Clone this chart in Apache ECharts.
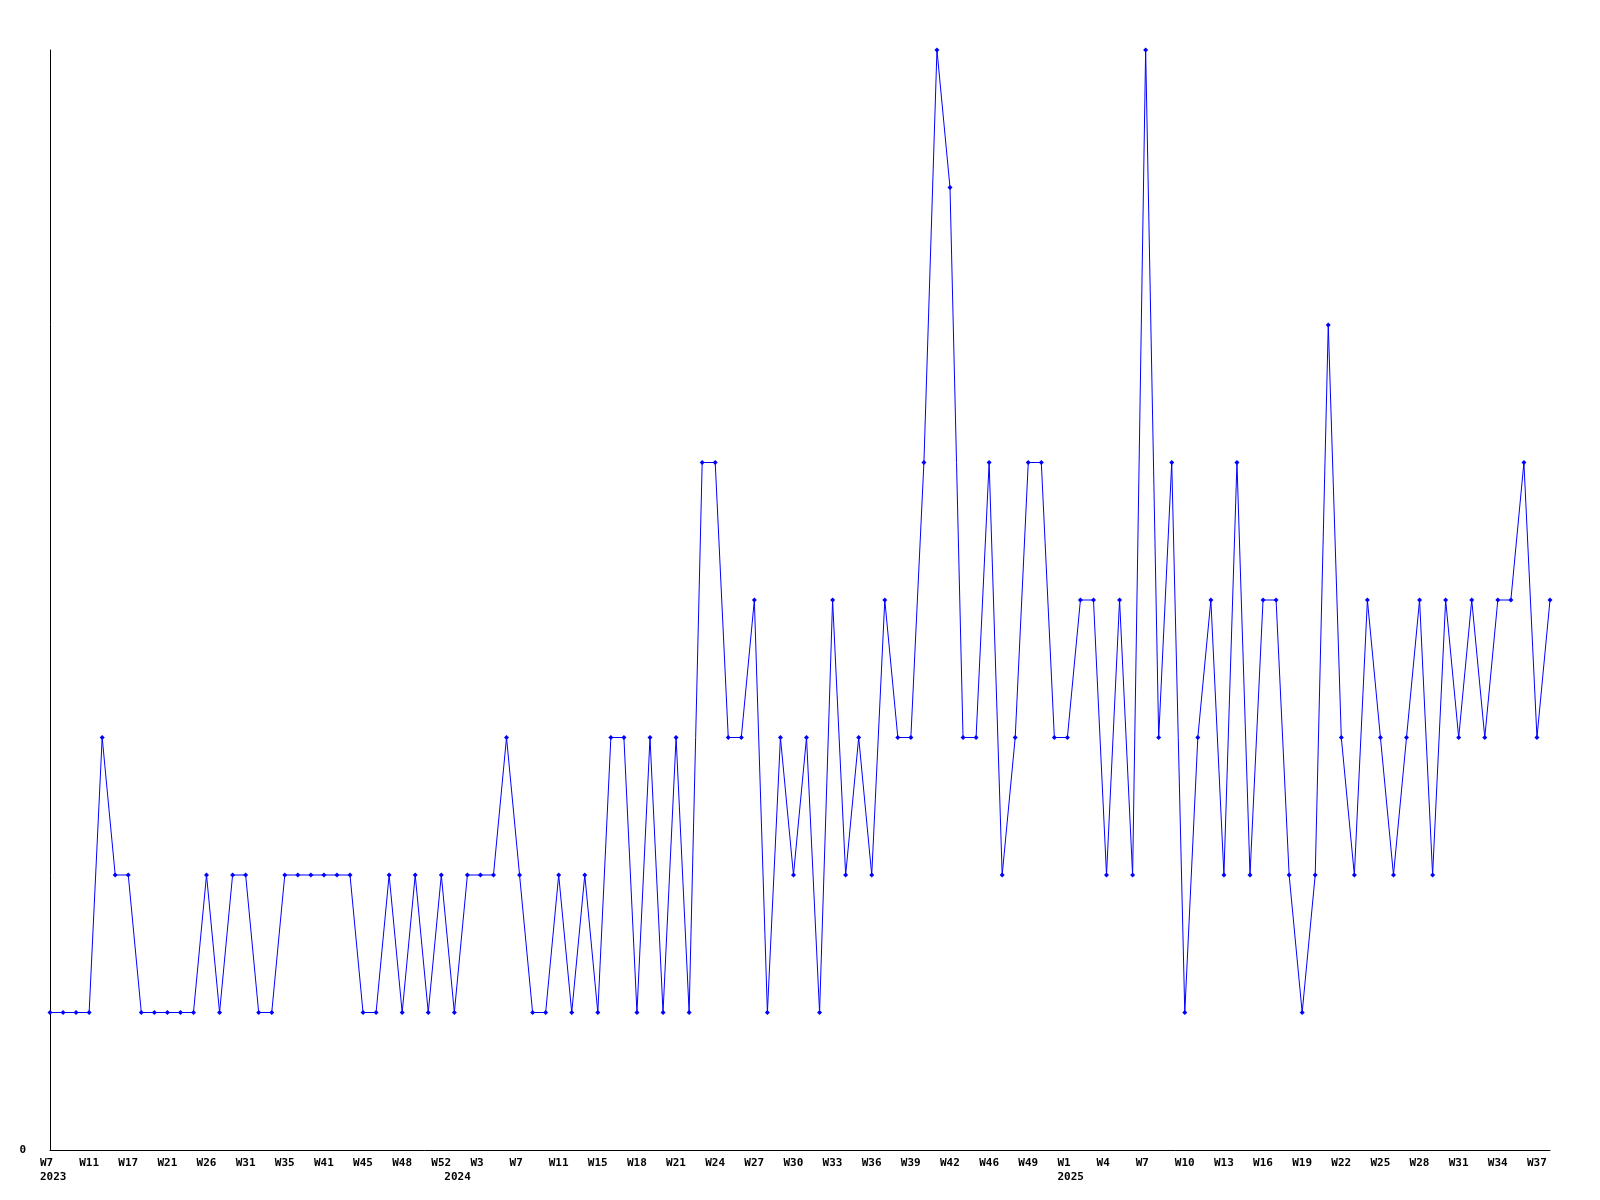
<!DOCTYPE html>
<html>
<head>
<meta charset="utf-8">
<script src="https://cdn.jsdelivr.net/npm/echarts@6/dist/echarts.min.js"></script>
<style>html,body{margin:0;padding:0;background:#fff;}#c{width:1600px;height:1200px;}</style>
</head>
<body>
<div id="c"></div>
<script>
const weeks2023 = [7,8,9,11,12,14,17,18,19,21,22,24,26,27,29,31,32,33,35,37,39,41,42,43,45,46,47,48,49,50,52];
const weeks2024 = [1,2,3,4,6,7,8,10,11,12,13,15,16,17,18,19,20,21,22,23,24,25,26,27,28,29,30,31,32,33,34,35,36,37,38,39,40,41,42,43,44,46,47,48,49,50,51];
const weeks2025 = [1,2,3,4,5,6,7,8,9,10,11,12,13,14,15,16,17,18,19,20,21,22,23,24,25,26,27,28,29,30,31,32,33,34,35,36,37,38];
const values = [
  1,1,1,1,3,2,2,1,1,1,
  1,1,2,1,2,2,1,1,2,2,
  2,2,2,2,1,1,2,1,2,1,
  2,1,2,2,2,3,2,1,1,2,
  1,2,1,3,3,1,3,1,3,1,
  5,5,3,3,4,1,3,2,3,1,
  4,2,3,2,4,3,3,5,8,7,
  3,3,5,2,3,5,5,3,3,4,
  4,2,4,2,8,3,5,1,3,4,
  2,5,2,4,4,2,1,2,6,3,
  2,4,3,2,3,4,2,4,3,4,
  3,4,4,5,3,4
];
const yTicks = [0];

const categories = [];
const yearStart = {};
[[2023, weeks2023], [2024, weeks2024], [2025, weeks2025]].forEach(([y, ws]) => {
  yearStart[categories.length] = y;
  ws.forEach(w => categories.push(y + '-W' + w));
});

const font = '"DejaVu Sans Mono", "Liberation Mono", monospace';
const chart = echarts.init(document.getElementById('c'), null, {renderer: 'canvas'});
chart.setOption({
  animation: false,
  backgroundColor: '#ffffff',
  grid: [
    {left: 50, right: 50, top: 50, bottom: 50},
    {left: 40, right: 60, top: 50, bottom: 50}
  ],
  xAxis: [
    {
      type: 'category', gridIndex: 0, data: categories, boundaryGap: false,
      axisLine: {show: true, lineStyle: {color: '#000', width: 1}},
      axisTick: {show: false}, axisLabel: {show: false}, splitLine: {show: false}
    },
    {
      type: 'category', gridIndex: 1, data: categories, boundaryGap: false,
      axisLine: {show: false}, axisTick: {show: false}, splitLine: {show: false},
      axisLabel: {
        show: true, align: 'left', margin: 6,
        fontFamily: font, fontWeight: 'bold', fontSize: 11, lineHeight: 14, color: '#000',
        interval: (i) => i % 3 === 0 || yearStart[i] !== undefined,
        formatter: (v, i) => {
          const wk = i % 3 === 0 ? v.split('-')[1] : '';
          return yearStart[i] !== undefined ? wk + '\n' + yearStart[i] : wk;
        }
      }
    }
  ],
  yAxis: [
    {
      type: 'value', gridIndex: 0, min: 0, max: 8, interval: 8,
      axisLine: {show: true, lineStyle: {color: '#000', width: 1}},
      axisTick: {show: false}, splitLine: {show: false},
      axisLabel: {
        show: true, margin: 24, fontFamily: font, fontWeight: 'bold', fontSize: 11, color: '#000',
        formatter: (v) => yTicks.indexOf(v) >= 0 ? String(v) : ''
      }
    },
    {type: 'value', gridIndex: 1, min: 0, max: 8, show: false}
  ],
  series: [{
    type: 'line', xAxisIndex: 0, yAxisIndex: 0, data: values,
    symbol: 'diamond', symbolSize: 5, showAllSymbol: true,
    lineStyle: {color: '#0000ff', width: 1},
    itemStyle: {color: '#0000ff'},
    emphasis: {disabled: true}
  }]
});
</script>
</body>
</html>
